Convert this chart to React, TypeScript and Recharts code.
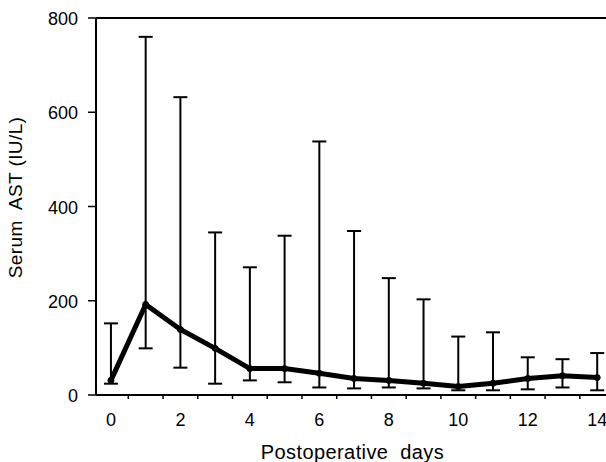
import React from 'react';
import { LineChart, Line, XAxis, YAxis, ErrorBar, ReferenceLine } from 'recharts';

// Postoperative day, mean serum AST and the ends of each error bar (IU/L)
const days = [0, 1, 2, 3, 4, 5, 6, 7, 8, 9, 10, 11, 12, 13, 14];
const meanAst = [31, 192, 139, 99, 56, 56, 46, 35, 31, 25, 18, 25, 35, 41, 37];
const upperAst = [152, 760, 632, 345, 271, 338, 538, 348, 248, 203, 124, 133, 80, 76, 89];
const lowerAst = [24, 99, 58, 24, 31, 27, 16, 14, 16, 14, 10, 10, 12, 16, 10];

const yTicks = [0, 200, 400, 600, 800];
const xLabelTicks = [0, 2, 4, 6, 8, 10, 12, 14];
const xMinorTicks = [0.5, 1.5, 2.5, 3.5, 4.5, 5.5, 6.5, 7.5, 8.5, 9.5, 10.5, 11.5, 12.5, 13.5, 14.5];

const FONT = '"Liberation Sans", Arial, Helvetica, sans-serif';

const data = days.map((day, i) => ({
  day,
  mean: meanAst[i],
  err: [meanAst[i] - lowerAst[i], upperAst[i] - meanAst[i]],
}));

const xTicks = [...xLabelTicks, ...xMinorTicks].sort((a, b) => a - b);

const DayTick = (props: any) => {
  const { x, y, payload } = props;
  const v = payload.value;
  if (Number.isInteger(v)) {
    return (
      <text x={x} y={y + 31} textAnchor="middle" fontSize={18} fontFamily={FONT} fill="#000">
        {v}
      </text>
    );
  }
  return <line x1={x} y1={y} x2={x} y2={y + 4} stroke="#000" strokeWidth={1.5} />;
};

const AstTick = (props: any) => {
  const { x, y, payload } = props;
  return (
    <text x={x} y={y + 7} textAnchor="end" fontSize={18} fontFamily={FONT} fill="#000">
      {payload.value}
    </text>
  );
};

export default function App() {
  return (
    <div
      style={{
        position: 'absolute',
        left: 0,
        top: 0,
        width: 606,
        height: 462,
        overflow: 'hidden',
        background: '#fff',
      }}
    >
      <LineChart width={640} height={462} data={data} margin={{ top: 18, right: 23, bottom: 27, left: 0 }}>
        <XAxis
          dataKey="day"
          type="number"
          domain={[-0.43, 14.57]}
          ticks={xTicks}
          interval={0}
          tick={DayTick}
          tickLine={false}
          tickSize={0}
          tickMargin={0}
          height={40}
          axisLine={{ stroke: '#000', strokeWidth: 2 }}
          label={(p: any) => {
            const vb = p.viewBox || { x: 96, y: 395, width: 521, height: 40 };
            return (
              <text
                x={vb.x + vb.width / 2 - 4}
                y={vb.y + 64}
                textAnchor="middle"
                fontSize={20}
                fontFamily={FONT}
                letterSpacing={0.4}
                fill="#000"
                style={{ whiteSpace: 'pre' }}
              >
                {'Postoperative  days'}
              </text>
            );
          }}
        />
        <YAxis
          type="number"
          domain={[0, 800]}
          ticks={yTicks}
          interval={0}
          width={96}
          tick={AstTick}
          tickSize={8}
          tickMargin={10}
          tickLine={{ stroke: '#000', strokeWidth: 1.5 }}
          axisLine={{ stroke: '#000', strokeWidth: 2 }}
          label={(p: any) => {
            const vb = p.viewBox || { x: 0, y: 18, width: 96, height: 377 };
            const cy = vb.y + vb.height / 2 - 9;
            return (
              <text
                transform={`translate(22, ${cy}) rotate(-90)`}
                textAnchor="middle"
                fontSize={19}
                fontFamily={FONT}
                letterSpacing={0.4}
                fill="#000"
                style={{ whiteSpace: 'pre' }}
              >
                {'Serum  AST (IU/L)'}
              </text>
            );
          }}
        />
        <ReferenceLine y={800} stroke="#000" strokeWidth={2} />
        <Line
          type="linear"
          dataKey="mean"
          stroke="#000"
          strokeWidth={5}
          dot={{ r: 3, fill: '#000', stroke: '#000', strokeWidth: 1 }}
          activeDot={false}
          isAnimationActive={false}
        >
          <ErrorBar dataKey="err" direction="y" width={7} stroke="#000" strokeWidth={2} />
        </Line>
      </LineChart>
    </div>
  );
}
